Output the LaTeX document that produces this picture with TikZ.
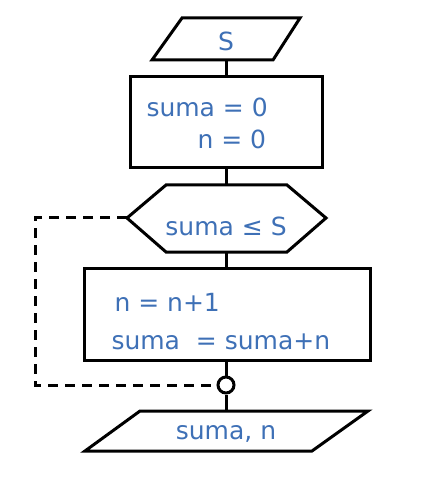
\documentclass[tikz,border=0pt]{standalone}
\usepackage{fontspec}
\setmainfont{DejaVu Sans}
\usetikzlibrary{calc}

\definecolor{textblue}{RGB}{62,112,182}

\begin{document}
\begin{tikzpicture}[x=0.5pt, y=-0.5pt, line width=1.5pt, line join=miter,
    txt/.style={text=textblue, font=\fontsize{12.5}{15}\selectfont, inner sep=0pt},
    loopline/.style={dash pattern=on 5pt off 3.5pt}]
    \useasboundingbox (0, 0) rectangle (420, 480);

    % entrada S
    \draw (182, 18) -- (300, 18) -- (273, 60) -- (152, 60) -- cycle;
    \coordinate (inS) at (226, 60);
    \node[txt] (s) at (226, 41) {S};

    % inicializacion
    \draw (130, 77) rectangle (322, 168);
    \coordinate (initTop) at (226, 77);
    \coordinate (initBot) at (226, 168);
    \node[txt, anchor=base west] (init1) at (145, 117) {suma = 0};
    \node[txt, anchor=base west] (init2) at (196, 149) {n = 0};

    % condicion
    \draw (166, 185) -- (287, 185) -- (326, 218) -- (287, 252) -- (166, 252) -- (127, 218) -- cycle;
    \coordinate (condTop) at (226, 185);
    \coordinate (condBot) at (226, 252);
    \coordinate (condLeft) at (127, 218);
    \node[txt] (cond) at (226, 226) {suma ≤ S};

    % cuerpo del ciclo
    \draw (84, 268) rectangle (370, 360);
    \coordinate (bodyTop) at (226, 268);
    \coordinate (bodyBot) at (226, 360);
    \node[txt, anchor=base west] (body1) at (113, 311) {n = n+1};
    \node[txt, anchor=base west] (body2) at (110, 349) {suma \ = suma+n};

    % union
    \node[circle, draw, minimum size=8pt, inner sep=0pt] (join) at (226, 385) {};

    % salida
    \draw (140, 411) -- (368, 411) -- (312, 451) -- (85, 451) -- cycle;
    \coordinate (outTop) at (226, 411);
    \node[txt] (out) at (226, 434) {suma, n};

    % conectores
    \draw (inS) -- (initTop);
    \draw (initBot) -- (condTop);
    \draw (condBot) -- (bodyTop);
    \draw (bodyBot) -- (join.north);
    \draw (join.south) -- (outTop);
    \draw[loopline] (condLeft) -- (35, 218) -- (35, 385) -- (join.west);
\end{tikzpicture}
\end{document}
